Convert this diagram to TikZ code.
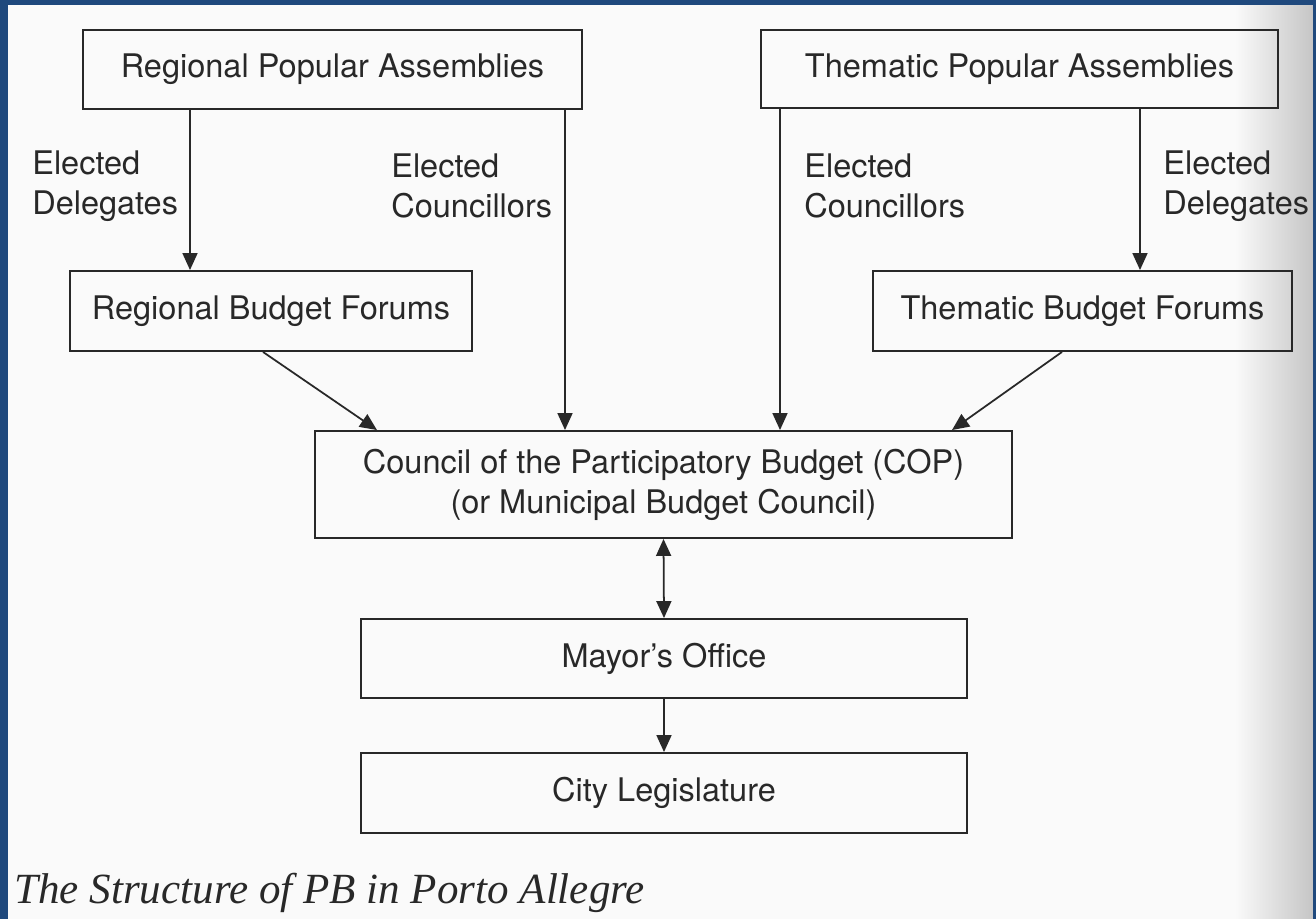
\documentclass[tikz,border=0pt]{standalone}
\usepackage{fontspec}
\setmainfont{TeX Gyre Heros}
\newfontfamily\capfont{Liberation Serif}
\usetikzlibrary{arrows.meta}
\definecolor{slideblue}{RGB}{31,73,125}
\definecolor{ink}{RGB}{40,40,40}
\definecolor{paper}{RGB}{250,250,250}
\tikzset{
  box/.style={draw=ink,line width=1.1pt,rectangle,inner sep=0pt,align=center,
    font=\fontsize{18.5}{22.8}\selectfont,text=ink},
  lbl/.style={anchor=west,align=left,inner sep=0pt,
    font=\fontsize{18.5}{22.8}\selectfont,text=ink},
  arr/.style={draw=ink,line width=1pt,>={Triangle[length=0.34cm,width=0.3cm]},->}
}

\begin{document}
\begin{tikzpicture}[x=0.02cm,y=-0.02cm]
\useasboundingbox (0,0) rectangle (1316,919);
\fill[paper] (0,0) rectangle (1316,919);
\shade[left color=paper,right color=gray!45] (1235,0) rectangle (1313,919);

\node[box,minimum width=9.98cm,minimum height=1.58cm] (rpa) at (332.5,69.5){Regional Popular Assemblies};
\node[box,minimum width=10.34cm,minimum height=1.56cm] (tpa) at (1019.5,69){Thematic Popular Assemblies};
\node[box,minimum width=8.04cm,minimum height=1.6cm] (rbf) at (271,311){Regional Budget Forums};
\node[box,minimum width=8.38cm,minimum height=1.6cm] (tbf) at (1082.5,311){Thematic Budget Forums};
\node[box,minimum width=13.94cm,minimum height=2.14cm] (cop) at (663.5,484.5){Council of the Participatory Budget (COP)\\(or Municipal Budget Council)};
\node[box,minimum width=12.12cm,minimum height=1.58cm] (mayor) at (664,658.5){Mayor's Office};
\node[box,minimum width=12.12cm,minimum height=1.6cm] (city) at (664,793){City Legislature};

\node[lbl] (ed1) at (32,186){Elected\\Delegates};
\node[lbl] (ec1) at (391,186){Elected\\Councillors};
\node[lbl] (ec2) at (804,186){Elected\\Councillors};
\node[lbl] (ed2) at (1163,186){Elected\\Delegates};

\coordinate (rd) at (190,0);
\coordinate (rc) at (565,0);
\coordinate (tc) at (780,0);
\coordinate (td) at (1140,0);
\foreach \from/\to/\x in {rpa/rbf/rd,rpa/cop/rc,tpa/cop/tc,tpa/tbf/td}
  \draw[arr] (\from.south -| \x) -- (\to.north -| \x);

\coordinate (rs) at (263,0);
\coordinate (re) at (377,0);
\coordinate (ts) at (1062,0);
\coordinate (te) at (952,0);
\draw[arr] (rbf.south -| rs) -- (cop.north -| re);
\draw[arr] (tbf.south -| ts) -- (cop.north -| te);
\draw[arr,<->] (cop.south) -- (mayor.north);
\draw[arr] (mayor.south) -- (city.north);

\node[anchor=base west,inner sep=0pt,text=ink,
  font=\capfont\itshape\fontsize{24.5}{28}\selectfont] (cap) at (14,903){The Structure of PB in Porto Allegre};

\fill[slideblue] (0,0) rectangle (8,919);
\fill[slideblue] (0,0) rectangle (1316,5);
\fill[slideblue] (1313,0) rectangle (1316,919);
\end{tikzpicture}
\end{document}
